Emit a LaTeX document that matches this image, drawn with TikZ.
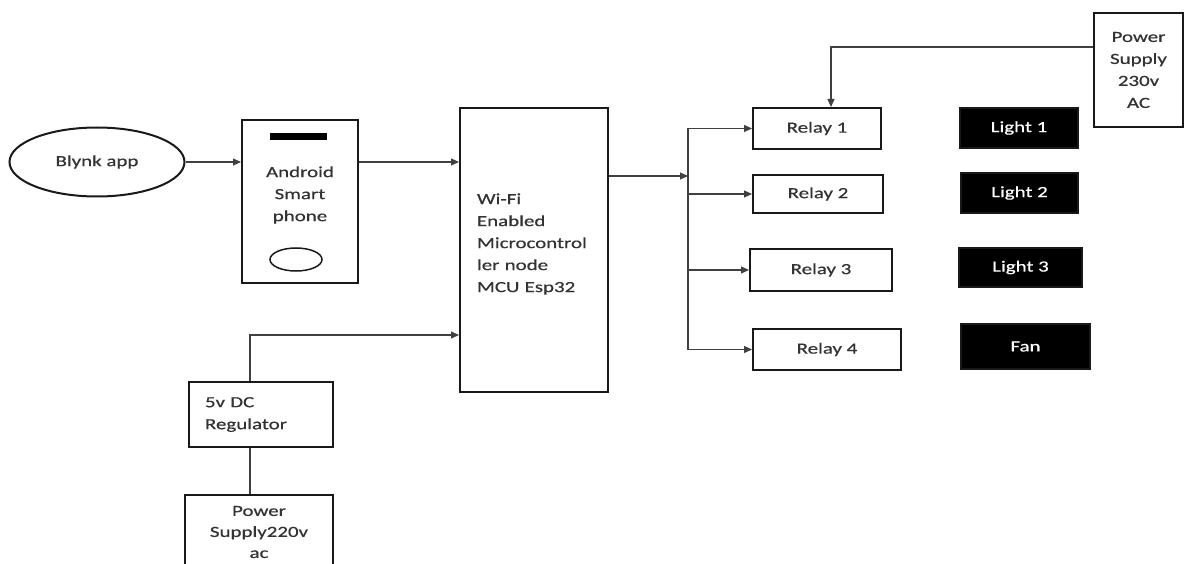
\documentclass[tikz,border=0pt]{standalone}
\usepackage{fontspec}
\setmainfont{Carlito}[FakeStretch=1.35, FakeBold=0.6]
\usetikzlibrary{arrows.meta,shapes.geometric}
\definecolor{inkgray}{HTML}{333333}

\begin{document}
\begin{tikzpicture}[
  x=1pt, y=1pt,
  box/.style={draw=black!90, line width=2pt, align=center, text=inkgray,
              font=\fontsize{15.5}{22}\selectfont, inner sep=0pt},
  blk/.style={box, fill=black, text=white},
  ar/.style={-{Triangle[length=8pt,width=7pt]}, line width=1.2pt, black!75},
  ln/.style={line width=1.2pt, black!75}
]
\clip (0,0) rectangle (1192,-564);

\node[box, ellipse, minimum width=175pt, minimum height=69pt] (blynk) at (97,-162)
  {Blynk app};
\node[box, minimum width=116pt, minimum height=163pt] (phone) at (300,-201.5) {};
\node[font=\fontsize{15.5}{22}\selectfont, text=inkgray, align=center] (phonetxt)
  at (300,-195) {Android\\Smart\\phone};
\node[fill=black, minimum width=57pt, minimum height=7pt, inner sep=0pt] (bar)
  at (298.5,-136.5) {};
\node[draw=black!90, line width=1.5pt, ellipse, minimum width=52pt,
      minimum height=23pt, inner sep=0pt] (btn) at (296,-259.5) {};
\node[box, minimum width=148pt, minimum height=284pt, text width=114pt,
      align=left] (mcu) at (534,-250) {};
\node[font=\fontsize{15.5}{22}\selectfont, text=inkgray, text width=114pt,
      align=left] (mcutxt) at (534,-244)
  {Wi-Fi\\Enabled\\Microcontrol\\ler node\\MCU Esp32};

\node[box, minimum width=128pt, minimum height=41pt] (relay1) at (817,-128.5) {Relay 1};
\node[box, minimum width=130pt, minimum height=38pt] (relay2) at (818,-194) {Relay 2};
\node[box, minimum width=142pt, minimum height=42pt] (relay3) at (821,-270) {Relay 3};
\node[box, minimum width=148pt, minimum height=41pt] (relay4) at (827,-349.5) {Relay 4};

\node[blk, minimum width=118pt, minimum height=40pt] (light1) at (1019,-128) {Light 1};
\node[blk, minimum width=117pt, minimum height=40pt] (light2) at (1019.5,-193) {Light 2};
\node[blk, minimum width=123pt, minimum height=39pt] (light3) at (1020.5,-267.5) {Light 3};
\node[blk, minimum width=129pt, minimum height=45pt] (fan) at (1025.5,-346.5) {Fan};

\node[box, minimum width=89pt, minimum height=114pt] (ps230) at (1138.5,-70)
  {Power\\Supply\\230v\\AC};

\node[box, minimum width=144pt, minimum height=65pt, text width=112pt,
      align=left] (reg) at (261,-414.5) {5v DC\\Regulator};
\node[box, minimum width=148pt, minimum height=85pt] (ps220) at (259,-537.5) {};
\node[font=\fontsize{15.5}{21}\selectfont, text=inkgray, align=center] (ps220txt)
  at (259,-532) {Power\\Supply220v\\ac};

\coordinate (jn) at (688,-176);

\draw[ar] (blynk) -- (phone.west |- blynk);
\draw[ar] (phone.east |- blynk) -- (mcu.west |- blynk);
\draw[ar] (mcu.east |- jn) -- (jn);
\draw[ln] (jn |- relay1.west) -- (jn |- relay4.west);
\draw[ar] (jn |- relay1.west) -- (relay1.west);
\draw[ar] (jn |- relay2.west) -- (relay2.west);
\draw[ar] (jn |- relay3.west) -- (relay3.west);
\draw[ar] (jn |- relay4.west) -- (relay4.west);
\draw[ar] ([yshift=23pt]ps230.west) -| ([xshift=14pt]relay1.north);
\draw[ar] ([xshift=-11pt]reg.north) |- ([yshift=-85pt]mcu.west);
\draw[ln] ([xshift=-11pt]reg.south) -- ([xshift=-11pt]reg.south |- ps220.north);

\end{tikzpicture}
\end{document}
